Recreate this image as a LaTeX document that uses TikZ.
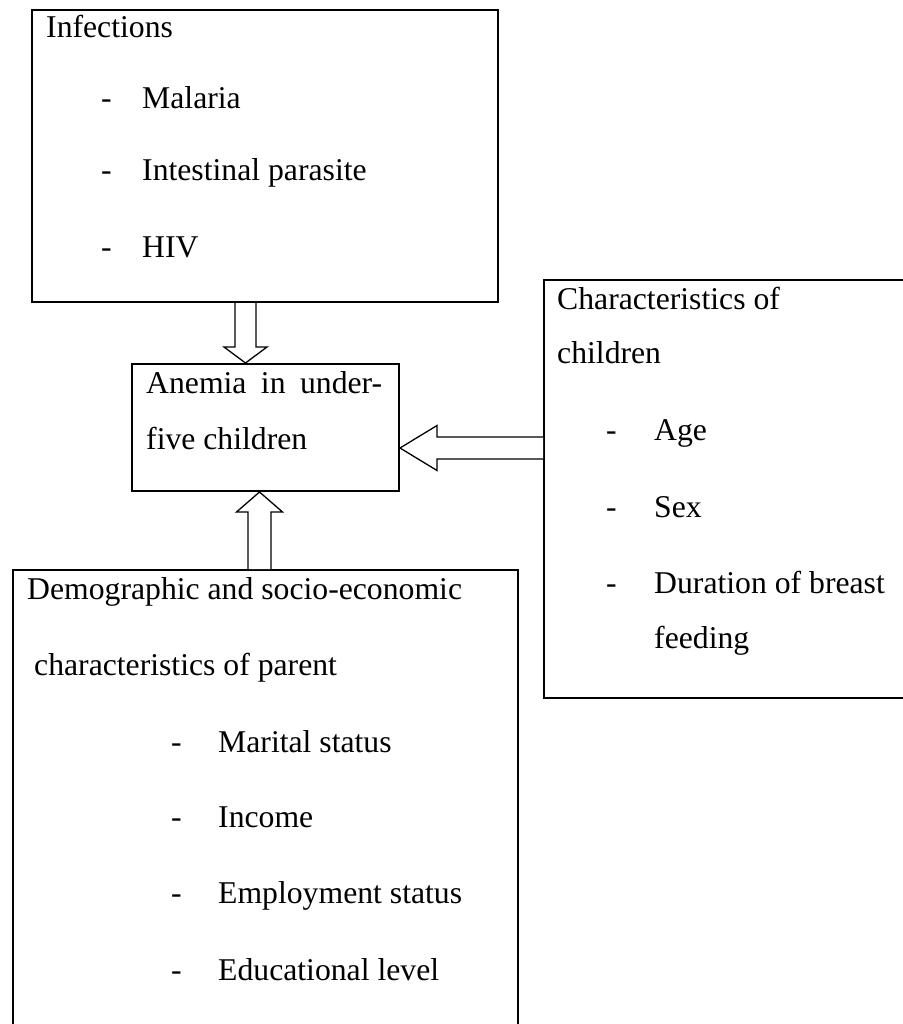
\documentclass[tikz,border=0pt]{standalone}
\usepackage{fontspec}
\setmainfont{Liberation Serif}
\usetikzlibrary{calc}
\begin{document}
\begin{tikzpicture}[x=1pt,y=-1pt,
  box/.style={draw=black,line width=2pt,rectangle,inner sep=0pt,anchor=north west},
  txt/.style={inner sep=0pt,anchor=base west,font=\fontsize{31.7pt}{38pt}\selectfont},
  blk/.style={draw=black,line width=1.3pt,fill=white,line join=miter}]
\useasboundingbox (0,0) rectangle (902,1024);
\fill[white] (0,0) rectangle (902,1024);
% boxes
\node[box,minimum width=466pt,minimum height=292pt] (inf) at (31,9) {};
\node[box,minimum width=267pt,minimum height=127pt] (anem) at (131,363) {};
\node[box,minimum width=380pt,minimum height=418pt] (char) at (543,279) {};
\node[box,minimum width=505pt,minimum height=480pt] (demo) at (12,569) {};
% Infections text
\node[txt] (t1) at (46,38) {Infections};
\node[txt] (t1a) at (101,109) {-};
\node[txt] (t1b) at (142,109) {Malaria};
\node[txt] (t1c) at (101,181) {-};
\node[txt] (t1d) at (142,181) {Intestinal parasite};
\node[txt] (t1e) at (101,258) {-};
\node[txt] (t1f) at (142,258) {HIV};
% Anemia text
\node[txt] (t2) at (146,393) {\makebox[236pt][s]{Anemia in under-}};
\node[txt] (t2b) at (146,449) {five children};
% Characteristics of children
\node[txt] (t3) at (557,309) {Characteristics of};
\node[txt] (t3b) at (557,363) {children};
\node[txt] (t3c) at (606,440) {-};
\node[txt] (t3d) at (654,440) {Age};
\node[txt] (t3e) at (606,517) {-};
\node[txt] (t3f) at (654,517) {Sex};
\node[txt] (t3g) at (606,593) {-};
\node[txt] (t3h) at (654,593) {Duration of breast};
\node[txt] (t3i) at (654,648) {feeding};
% Demographic
\node[txt] (t4) at (27,599) {Demographic and socio-economic};
\node[txt] (t4b) at (34,675) {characteristics of parent};
\node[txt] (t4c) at (171,752) {-};
\node[txt] (t4d) at (218,752) {Marital status};
\node[txt] (t4e) at (171,827) {-};
\node[txt] (t4f) at (218,827) {Income};
\node[txt] (t4g) at (171,903) {-};
\node[txt] (t4h) at (218,903) {Employment status};
\node[txt] (t4i) at (171,980) {-};
\node[txt] (t4j) at (218,980) {Educational level};
% arrow reference coordinates
\coordinate (dA) at (245.5,0);
\coordinate (lA) at (0,448);
\coordinate (uA) at (259.5,0);
\coordinate (dB) at (dA |- inf.south);
\coordinate (dT) at (dA |- anem.north);
\coordinate (lB) at (char.west |- lA);
\coordinate (lT) at (anem.east |- lA);
\coordinate (uB) at (uA |- demo.north);
\coordinate (uT) at (uA |- anem.south);
% down arrow: Infections -> Anemia
\draw[blk] ($(dB)+(-10.5,0)$) -- ($(dT)+(-10.5,-16)$) -- ($(dT)+(-21.5,-16)$) -- (dT)
  -- ($(dT)+(21.5,-16)$) -- ($(dT)+(10.5,-16)$) -- ($(dB)+(10.5,0)$);
% left arrow: Characteristics -> Anemia
\draw[blk] ($(lB)+(0,-11)$) -- ($(lT)+(37,-11)$) -- ($(lT)+(37,-22.5)$) -- (lT)
  -- ($(lT)+(37,22.5)$) -- ($(lT)+(37,11)$) -- ($(lB)+(0,11)$);
% up arrow: Demographic -> Anemia
\draw[blk] ($(uB)+(-11.5,0)$) -- ($(uT)+(-11.5,20)$) -- ($(uT)+(-23,20)$) -- (uT)
  -- ($(uT)+(23,20)$) -- ($(uT)+(11.5,20)$) -- ($(uB)+(11.5,0)$);
\end{tikzpicture}
\end{document}
